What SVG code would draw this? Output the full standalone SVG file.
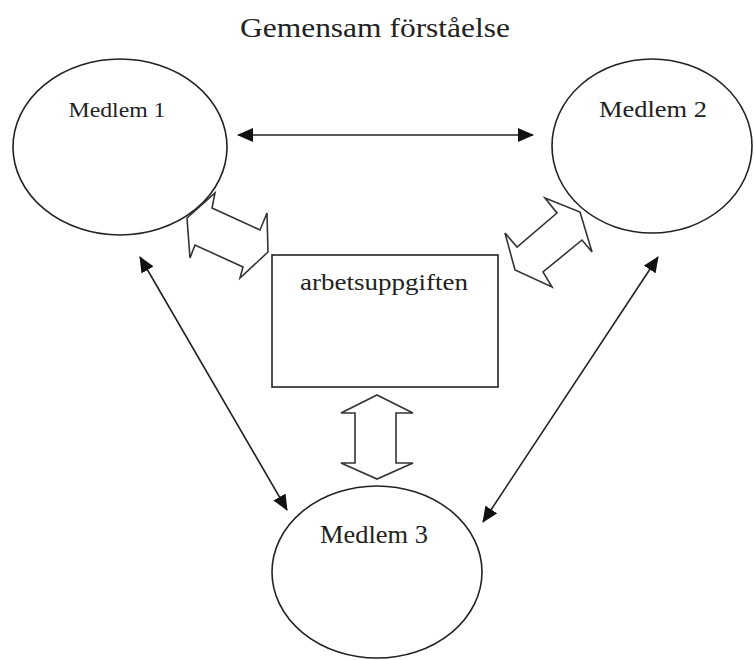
<svg xmlns="http://www.w3.org/2000/svg" width="754" height="660" viewBox="0 0 754 660">
  <style>
    .node { fill: #ffffff; stroke: #222222; stroke-width: 1.6; }
    .lbl { font-family: "Liberation Serif", "Times New Roman", serif; fill: #222222; }
    .conn { fill: none; stroke: #222222; stroke-width: 1.6; }
    .block { fill: #ffffff; stroke: #333333; stroke-width: 1.6; stroke-linejoin: miter; }
  </style>
  <defs>
    <marker id="ah" markerUnits="userSpaceOnUse" markerWidth="16" markerHeight="14" refX="15" refY="7" orient="auto-start-reverse">
      <path d="M0,0 L16,7 L0,14 Z" fill="#111111"/>
    </marker>
  </defs>
  <rect width="754" height="660" fill="#ffffff"/>

  <text class="lbl" x="375" y="37" font-size="28" text-anchor="middle" textLength="270" lengthAdjust="spacingAndGlyphs">Gemensam förståelse</text>

  <g id="medlem1">
    <ellipse class="node" cx="120" cy="147" rx="107" ry="88"/>
    <text class="lbl" x="117" y="117" font-size="21" text-anchor="middle" textLength="97" lengthAdjust="spacingAndGlyphs">Medlem 1</text>
  </g>
  <g id="medlem2">
    <ellipse class="node" cx="652" cy="146" rx="100" ry="87"/>
    <text class="lbl" x="653" y="117" font-size="23" text-anchor="middle" textLength="108" lengthAdjust="spacingAndGlyphs">Medlem 2</text>
  </g>
  <g id="medlem3">
    <ellipse class="node" cx="377" cy="572" rx="105" ry="86"/>
    <text class="lbl" x="374" y="543" font-size="25" text-anchor="middle" textLength="108" lengthAdjust="spacingAndGlyphs">Medlem 3</text>
  </g>
  <g id="arbetsuppgiften">
    <rect class="node" x="272" y="255" width="226" height="132"/>
    <text class="lbl" x="384" y="290" font-size="23" text-anchor="middle" textLength="168" lengthAdjust="spacingAndGlyphs">arbetsuppgiften</text>
  </g>

  <g id="connectors">
    <line class="conn" x1="238" y1="135" x2="533" y2="135" marker-start="url(#ah)" marker-end="url(#ah)"/>
    <line class="conn" x1="140" y1="257" x2="287" y2="510" marker-start="url(#ah)" marker-end="url(#ah)"/>
    <line class="conn" x1="658" y1="257" x2="483" y2="522" marker-start="url(#ah)" marker-end="url(#ah)"/>
    <polygon class="block" points="187,218 215,193 212,208 260,230 267,213 268,252 240,278 243,267 195,245 190,258"/>
    <polygon class="block" points="545,198 580,212 592,252 582,240 543,272 552,287 515,270 505,233 517,247 557,213"/>
    <polygon class="block" points="377,395 413,413 396,413 396,463 413,463 377,479 341,463 355,463 355,413 341,413"/>
  </g>
</svg>
